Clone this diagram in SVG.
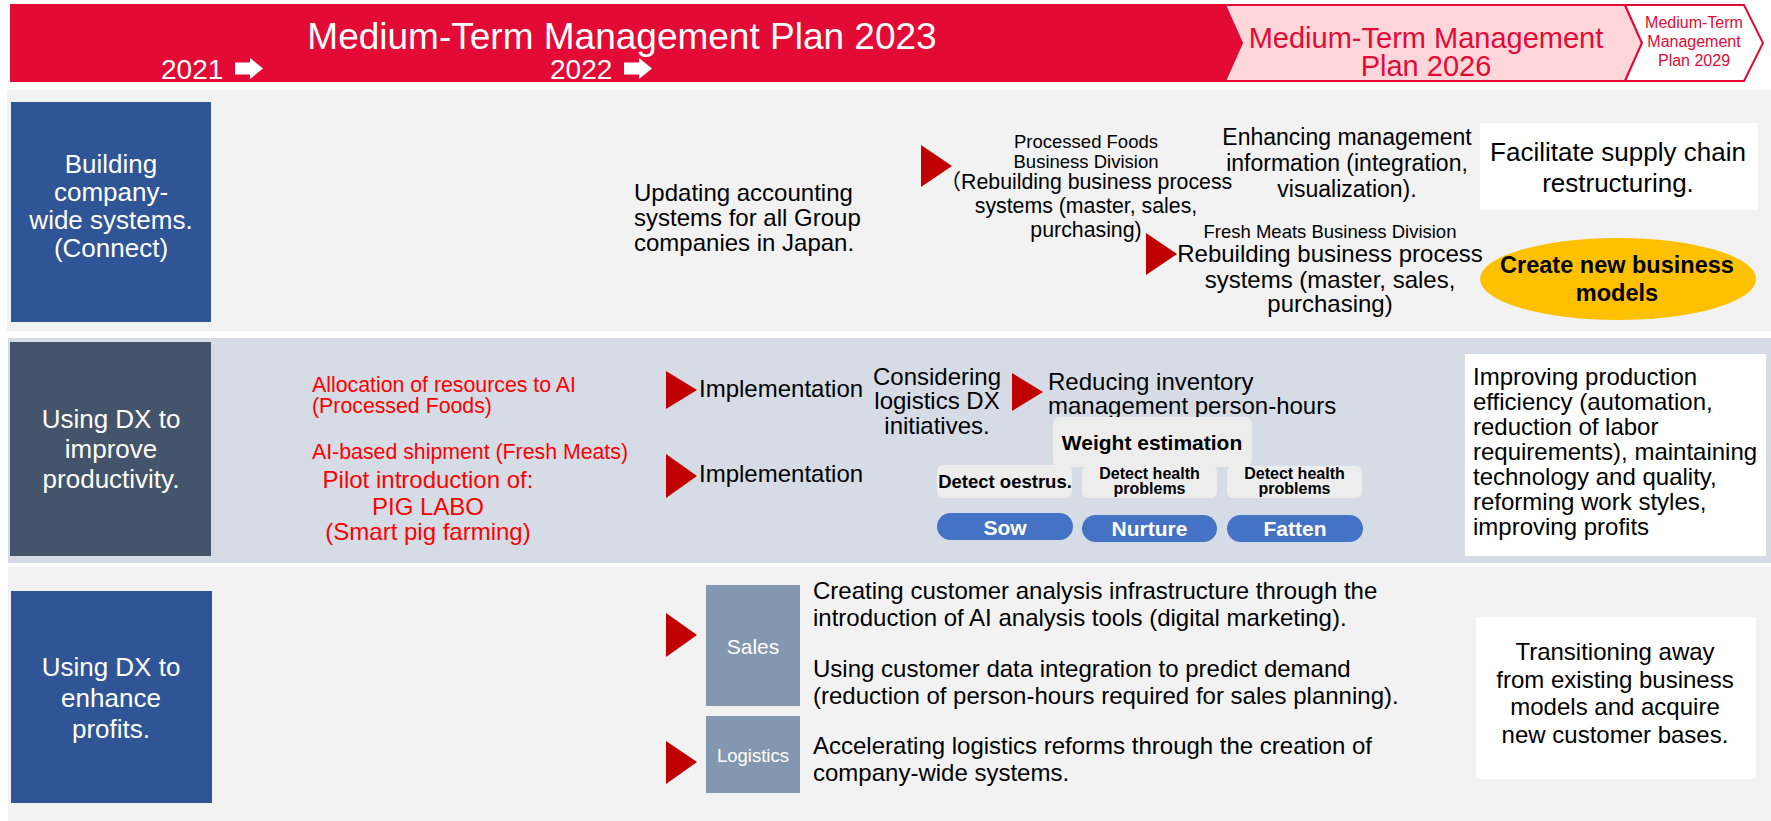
<svg xmlns="http://www.w3.org/2000/svg" width="1771" height="821" viewBox="0 0 1771 821">
  <defs>
    <style>
      text { font-family: 'Liberation Sans', Arial, 'Noto Sans CJK JP', sans-serif; }
      .w { fill: #FFFFFF; }
      .k { fill: #000000; }
      .r { fill: #FF0000; }
      .bd { font-weight: bold; }
      .mid { text-anchor: middle; }
      .band-a { fill: #F2F2F2; }
      .band-b { fill: #D6DCE5; }
      .head-blue { fill: #2F5597; }
      .head-slate { fill: #44546A; }
      .tri { fill: #C00000; }
      .pill { fill: #4472C4; }
      .tag { fill: #EDEDED; }
      .cat { fill: #8497B0; }
      .card { fill: #FFFFFF; }
      .plan-red { fill: #E30A35; }
      .plan-line { stroke: #E30A35; stroke-width: 2; stroke-linejoin: miter; }
      .plan-text { fill: #E30A35; }
    </style>
  </defs>

  <rect x="0" y="0" width="1771" height="821" fill="#FFFFFF"/>

  <!-- timeline header -->
  <g id="timeline">
    <polygon class="plan-red" points="10,4 1225,4 1242,43 1225,82 10,82"/>
    <text class="w mid" x="622" y="49" font-size="37">Medium-Term Management Plan 2023</text>
    <text class="w" x="161" y="79" font-size="28">2021</text>
    <polygon class="w" points="235,62.5 250,62.5 250,58 263,68.5 250,79 250,74.5 235,74.5"/>
    <text class="w" x="550" y="79" font-size="28">2022</text>
    <polygon class="w" points="624,62.5 639,62.5 639,58 652,68.5 639,79 639,74.5 624,74.5"/>

    <polygon class="plan-line" fill="#FFD7DA" points="1225,5 1625,5 1642,43 1625,81 1225,81 1242,43"/>
    <text class="plan-text mid" x="1426" y="48" font-size="29">Medium-Term Management</text>
    <text class="plan-text mid" x="1426" y="76" font-size="29">Plan 2026</text>

    <polygon class="plan-line" fill="#FFFFFF" points="1625,5 1744,5 1763,43 1744,81 1625,81 1642,43"/>
    <text class="plan-text mid" x="1694" y="28" font-size="16">Medium-Term</text>
    <text class="plan-text mid" x="1694" y="47" font-size="16">Management</text>
    <text class="plan-text mid" x="1694" y="66" font-size="16">Plan 2029</text>
  </g>

  <!-- row bands -->
  <g id="bands">
    <rect class="band-a" x="7" y="90" width="1764" height="241"/>
    <rect class="band-b" x="8" y="338" width="1763" height="225"/>
    <rect class="band-a" x="8" y="567" width="1763" height="254"/>
  </g>

  <!-- row 1: company-wide systems -->
  <g id="row1-label">
    <rect class="head-blue" x="11" y="102" width="200" height="220"/>
    <text class="w mid" x="111" y="173" font-size="26">Building</text>
    <text class="w mid" x="111" y="201" font-size="26">company-</text>
    <text class="w mid" x="111" y="229" font-size="26">wide systems.</text>
    <text class="w mid" x="111" y="257" font-size="26">(Connect)</text>
  </g>
  <g id="row1-accounting">
    <text class="k" x="634" y="201" font-size="24">Updating accounting</text>
    <text class="k" x="634" y="226" font-size="24">systems for all Group</text>
    <text class="k" x="634" y="251" font-size="24">companies in Japan.</text>
  </g>
  <g id="row1-processed-foods">
    <text class="k mid" x="1086" y="148" font-size="18.5">Processed Foods</text>
    <text class="k mid" x="1086" y="168" font-size="18.5">Business Division</text>
    <text class="k mid" x="1086" y="189" font-size="21.3">（Rebuilding business process</text>
    <text class="k mid" x="1086" y="213" font-size="21.3">systems (master, sales,</text>
    <text class="k mid" x="1086" y="237" font-size="21.3">purchasing)</text>
  </g>
  <g id="row1-management-info">
    <text class="k mid" x="1347" y="145" font-size="23">Enhancing management</text>
    <text class="k mid" x="1347" y="171" font-size="23">information (integration,</text>
    <text class="k mid" x="1347" y="197" font-size="23">visualization).</text>
  </g>
  <g id="row1-fresh-meats">
    <text class="k mid" x="1330" y="238" font-size="18.5">Fresh Meats Business Division</text>
    <text class="k mid" x="1330" y="262" font-size="24">Rebuilding business process</text>
    <text class="k mid" x="1330" y="288" font-size="24">systems (master, sales,</text>
    <text class="k mid" x="1330" y="312" font-size="24">purchasing)</text>
  </g>
  <g id="row1-goal">
    <rect class="card" x="1480" y="123" width="278" height="87"/>
    <text class="k mid" x="1618" y="161" font-size="26">Facilitate supply chain</text>
    <text class="k mid" x="1618" y="192" font-size="26">restructuring.</text>
  </g>
  <g id="row1-new-models">
    <ellipse cx="1618" cy="279" rx="138" ry="41" fill="#FFC000"/>
    <text class="k bd mid" x="1617" y="273" font-size="23.5">Create new business</text>
    <text class="k bd mid" x="1617" y="301" font-size="23.5">models</text>
  </g>

  <!-- row 2: productivity -->
  <g id="row2-label">
    <rect class="head-slate" x="10" y="342" width="201" height="214"/>
    <text class="w mid" x="111" y="428" font-size="26">Using DX to</text>
    <text class="w mid" x="111" y="458" font-size="26">improve</text>
    <text class="w mid" x="111" y="488" font-size="26">productivity.</text>
  </g>
  <g id="row2-ai-processed">
    <text class="r" x="312" y="392" font-size="21.3">Allocation of resources to AI</text>
    <text class="r" x="312" y="413" font-size="21.3">(Processed Foods)</text>
  </g>
  <g id="row2-ai-fresh">
    <text class="r" x="312" y="459" font-size="21.3">AI-based shipment (Fresh Meats)</text>
  </g>
  <g id="row2-pig-labo">
    <text class="r mid" x="428" y="488" font-size="24">Pilot introduction of:</text>
    <text class="r mid" x="428" y="515" font-size="24">PIG LABO</text>
    <text class="r mid" x="428" y="540" font-size="24">(Smart pig farming)</text>
  </g>
  <g id="row2-impl-a">
    <text class="k" x="699" y="397" font-size="24">Implementation</text>
  </g>
  <g id="row2-impl-b">
    <text class="k" x="699" y="482" font-size="24">Implementation</text>
  </g>
  <g id="row2-logistics-dx">
    <text class="k mid" x="937" y="385" font-size="24">Considering</text>
    <text class="k mid" x="937" y="409" font-size="24">logistics DX</text>
    <text class="k mid" x="937" y="434" font-size="24">initiatives.</text>
  </g>
  <g id="row2-inventory">
    <text class="k" x="1048" y="390" font-size="24">Reducing inventory</text>
    <text class="k" x="1048" y="414" font-size="24">management person-hours</text>
  </g>
  <g id="pig-weight">
    <rect class="tag" x="1053" y="417" width="199" height="50" rx="7"/>
    <text class="k bd mid" x="1152" y="450" font-size="21">Weight estimation</text>
  </g>
  <g id="pig-oestrus">
    <rect class="tag" x="937" y="465" width="135" height="33" rx="6"/>
    <text class="k bd mid" x="1005" y="488" font-size="18.5">Detect oestrus.</text>
  </g>
  <g id="pig-health-nurture">
    <rect class="tag" x="1082" y="466" width="135" height="32" rx="6"/>
    <text class="k bd mid" x="1149.5" y="479" font-size="16">Detect health</text>
    <text class="k bd mid" x="1149.5" y="494" font-size="16">problems</text>
  </g>
  <g id="pig-health-fatten">
    <rect class="tag" x="1227" y="466" width="135" height="32" rx="6"/>
    <text class="k bd mid" x="1294.5" y="479" font-size="16">Detect health</text>
    <text class="k bd mid" x="1294.5" y="494" font-size="16">problems</text>
  </g>
  <g id="stage-sow">
    <rect class="pill" x="937" y="513" width="136" height="27" rx="13.5"/>
    <text class="w bd mid" x="1005" y="535" font-size="21">Sow</text>
  </g>
  <g id="stage-nurture">
    <rect class="pill" x="1082" y="515" width="135" height="27" rx="13.5"/>
    <text class="w bd mid" x="1149.5" y="536" font-size="21">Nurture</text>
  </g>
  <g id="stage-fatten">
    <rect class="pill" x="1227" y="515" width="136" height="27" rx="13.5"/>
    <text class="w bd mid" x="1295" y="536" font-size="21">Fatten</text>
  </g>
  <g id="row2-goal">
    <rect class="card" x="1465" y="354" width="301" height="202"/>
    <text class="k" x="1473" y="385" font-size="24">Improving production</text>
    <text class="k" x="1473" y="410" font-size="24">efficiency (automation,</text>
    <text class="k" x="1473" y="435" font-size="24">reduction of labor</text>
    <text class="k" x="1473" y="460" font-size="24">requirements), maintaining</text>
    <text class="k" x="1473" y="485" font-size="24">technology and quality,</text>
    <text class="k" x="1473" y="510" font-size="24">reforming work styles,</text>
    <text class="k" x="1473" y="535" font-size="24">improving profits</text>
  </g>

  <!-- row 3: profits -->
  <g id="row3-label">
    <rect class="head-blue" x="11" y="591" width="201" height="212"/>
    <text class="w mid" x="111" y="676" font-size="26">Using DX to</text>
    <text class="w mid" x="111" y="707" font-size="26">enhance</text>
    <text class="w mid" x="111" y="738" font-size="26">profits.</text>
  </g>
  <g id="row3-sales">
    <rect class="cat" x="706" y="585" width="94" height="121"/>
    <text class="w mid" x="753" y="654" font-size="21">Sales</text>
  </g>
  <g id="row3-logistics">
    <rect class="cat" x="706" y="716" width="94" height="77"/>
    <text class="w mid" x="753" y="762" font-size="18.5">Logistics</text>
  </g>
  <g id="row3-sales-items">
    <text class="k" x="813" y="599" font-size="24">Creating customer analysis infrastructure through the</text>
    <text class="k" x="813" y="626" font-size="24">introduction of AI analysis tools (digital marketing).</text>
    <text class="k" x="813" y="677" font-size="24">Using customer data integration to predict demand</text>
    <text class="k" x="813" y="704" font-size="24">(reduction of person-hours required for sales planning).</text>
  </g>
  <g id="row3-logistics-items">
    <text class="k" x="813" y="754" font-size="24">Accelerating logistics reforms through the creation of</text>
    <text class="k" x="813" y="781" font-size="24">company-wide systems.</text>
  </g>
  <g id="row3-goal">
    <rect class="card" x="1476" y="617" width="280" height="162"/>
    <text class="k mid" x="1615" y="660" font-size="24">Transitioning away</text>
    <text class="k mid" x="1615" y="688" font-size="24">from existing business</text>
    <text class="k mid" x="1615" y="715" font-size="24">models and acquire</text>
    <text class="k mid" x="1615" y="743" font-size="24">new customer bases.</text>
  </g>

  <!-- step pointers between items -->
  <g id="connectors">
    <polygon class="tri" points="921,145 952,166 921,187"/>
    <polygon class="tri" points="1146,233 1177,254 1146,275"/>
    <polygon class="tri" points="666,371 697,390 666,409"/>
    <polygon class="tri" points="666,454 697,476 666,498"/>
    <polygon class="tri" points="1012,373 1043,392 1012,411"/>
    <polygon class="tri" points="666,613 697,635 666,657"/>
    <polygon class="tri" points="666,741 697,762 666,784"/>
  </g>
</svg>
